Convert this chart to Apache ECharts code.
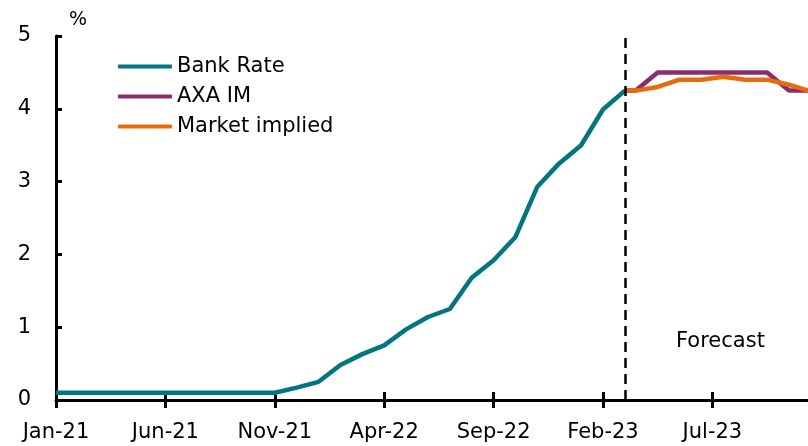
<!DOCTYPE html>
<html>
<head>
<meta charset="utf-8">
<script src="https://cdn.jsdelivr.net/npm/echarts@6/dist/echarts.min.js"></script>
<style>html,body{margin:0;padding:0;background:#fff}#c{width:808px;height:446px}</style>
</head>
<body>
<div id="c"></div>
<script>
// x positions are months since Jan-21
const tickLabels = ['Jan-21','Jun-21','Nov-21','Apr-22','Sep-22','Feb-23','Jul-23'];
const tickMonths = [0,5,10,15,20,25,30];
const bankRateMonths = [0,1,2,3,4,5,6,7,8,9,10,11,12,13,14,15,16,17,18,19,20,21,22,23,24,25,26];
const bankRate = [0.1,0.1,0.1,0.1,0.1,0.1,0.1,0.1,0.1,0.1,0.1,0.17,0.25,0.48,0.63,0.75,0.97,1.14,1.25,1.68,1.92,2.24,2.93,3.25,3.5,3.99,4.25];
const forecastMonths = [26,26.5,27.5,28.5,29.5,30.5,31.5,32.5,33.5,34.5];
const axaIM = [4.25,4.25,4.5,4.5,4.5,4.5,4.5,4.5,4.25,4.25];
const marketImplied = [4.25,4.25,4.30,4.40,4.40,4.44,4.40,4.40,4.33,4.24];
const forecastStart = 26;

const FONT = 'DejaVu Sans';
const FS = 21;
const pairs = (xs, ys) => xs.map((x, i) => [x, ys[i]]);
const labelFor = v => {
  const i = tickMonths.indexOf(Math.round(v));
  return i >= 0 && Math.abs(v - tickMonths[i]) < 1e-6 ? tickLabels[i] : '';
};
const chart = echarts.init(document.getElementById('c'), null, {renderer: 'canvas'});
const xCommon = {
  type: 'value', min: 0, max: 34.37, interval: 5,
  splitLine: {show: false}
};
chart.setOption({
  animation: false,
  backgroundColor: '#fff',
  grid: {left: 56, right: 0, top: 36, bottom: 46, containLabel: false},
  legend: {
    orient: 'vertical', left: 118, top: 56, padding: 0,
    itemWidth: 54, itemHeight: 4, itemGap: 9, icon: 'roundRect',
    textStyle: {fontFamily: FONT, fontSize: FS, color: '#000', lineHeight: 21},
    data: ['Bank Rate', 'AXA IM', 'Market implied']
  },
  xAxis: [
    Object.assign({}, xCommon, {
      position: 'bottom',
      axisLine: {show: true, lineStyle: {color: '#000', width: 3}},
      axisTick: {show: true, inside: false, length: 8, customValues: tickMonths, lineStyle: {color: '#000', width: 3}},
      axisLabel: {
        margin: 22, fontFamily: FONT, fontSize: FS, color: '#000',
        customValues: tickMonths,
        formatter: labelFor
      }
    }),
    Object.assign({}, xCommon, {
      position: 'bottom',
      axisLine: {show: false},
      axisTick: {show: true, inside: true, length: 8, customValues: tickMonths, lineStyle: {color: '#000', width: 3}},
      axisLabel: {show: false}
    })
  ],
  yAxis: {
    type: 'value', min: 0, max: 5, interval: 1,
    name: '%', nameLocation: 'end', nameGap: 6,
    nameTextStyle: {fontFamily: FONT, fontSize: 19, color: '#000', align: 'left', padding: [0, 0, 0, 13]},
    splitLine: {show: false},
    axisLine: {show: true, lineStyle: {color: '#000', width: 3}},
    axisTick: {show: true, inside: true, length: 6, lineStyle: {color: '#000', width: 3}},
    axisLabel: {margin: 25, fontFamily: FONT, fontSize: FS, color: '#000'}
  },
  graphic: [{
    type: 'text', x: 676, y: 342,
    style: {text: 'Forecast', fontFamily: FONT, fontSize: FS, fill: '#000', verticalAlign: 'middle', align: 'left'}
  }],
  series: [
    {
      name: 'Bank Rate', type: 'line', showSymbol: false, symbol: 'none',
      data: pairs(bankRateMonths, bankRate),
      color: '#007681',
      lineStyle: {color: '#007681', width: 4.5},
      markLine: {
        silent: true, symbol: 'none',
        label: {show: false},
        lineStyle: {color: '#000', type: [10, 6], width: 2.5},
        data: [{xAxis: forecastStart}]
      }
    },
    {
      name: 'AXA IM', type: 'line', showSymbol: false, symbol: 'none',
      data: pairs(forecastMonths, axaIM),
      color: '#8B2C6F',
      lineStyle: {color: '#8B2C6F', width: 4.5}
    },
    {
      name: 'Market implied', type: 'line', showSymbol: false, symbol: 'none',
      data: pairs(forecastMonths, marketImplied),
      color: '#E66C0B',
      lineStyle: {color: '#E66C0B', width: 4.5}
    }
  ]
});
</script>
</body>
</html>
